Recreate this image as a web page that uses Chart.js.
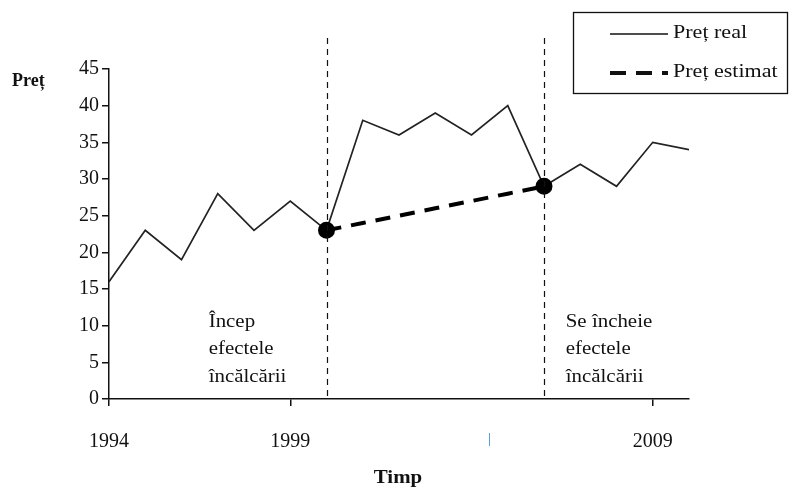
<!DOCTYPE html>
<html>
<head>
<meta charset="utf-8">
<script src="https://cdn.jsdelivr.net/npm/chart.js@4"></script>
<style>
  html, body { margin: 0; padding: 0; background: #fff; }
  #wrap { width: 793px; height: 495px; }
</style>
</head>
<body>
<div id="wrap"><canvas id="myChart" width="793" height="495"></canvas></div>
<script>
// data
const years = [1994, 1995, 1996, 1997, 1998, 1999, 2000, 2001, 2002, 2003, 2004, 2005, 2006, 2007, 2008, 2009, 2010];
const realPrice = [16, 23, 19, 28, 23, 27, 23, 38, 36, 39, 36, 40, 29, 32, 29, 35, 34];
const estYears = [2000, 2001, 2002, 2003, 2004, 2005, 2006];
const estPrice = [23, 24, 25, 26, 27, 28, 29];
const yearTicks = [1994, 1999, 2009];
const strayTick = 2004.5;   // the lone blue mark under the axis
const phaseYears = [2000, 2006];
const phaseNotes = [
    ['Încep', 'efectele', 'încălcării'],
    ['Se încheie', 'efectele', 'încălcării']
];
const seriesNames = ['Preț real', 'Preț estimat'];

const serif = '"Liberation Serif", "Times New Roman", serif';

// the source text looks a bit stretched sideways
function wideText(ctx, txt, x, y, sx) {
    ctx.save();
    ctx.translate(x, y);
    ctx.scale(sx, 1);
    ctx.fillText(txt, 0, 0);
    ctx.restore();
}

// vertical phase lines, notes, titles and the boxed legend
const decorPlugin = {
    id: 'decor',
    afterDatasetsDraw(chart) {
        const { ctx, chartArea: { top, bottom }, scales: { x } } = chart;
        ctx.save();

        // dashed verticals
        ctx.strokeStyle = '#111';
        ctx.lineWidth = 1.2;
        ctx.setLineDash([6, 5]);
        phaseYears.forEach(yr => {
            const px = Math.round(x.getPixelForValue(yr)) + 0.5;
            ctx.beginPath();
            ctx.moveTo(px, top - 31);
            ctx.lineTo(px, bottom - 3);
            ctx.stroke();
        });
        ctx.setLineDash([]);

        // notes
        ctx.fillStyle = '#111';
        ctx.font = '19px ' + serif;
        ctx.textAlign = 'left';
        ctx.textBaseline = 'middle';
        const noteX = [x.getPixelForValue(1996.75), x.getPixelForValue(2006.6)];
        phaseNotes.forEach((lines, i) => {
            lines.forEach((t, j) => wideText(ctx, t, noteX[i], 322 + j * 27.5, 1.1));
        });

        // axis titles
        ctx.font = 'bold 18px ' + serif;
        ctx.fillText('Preț', 12, 81);
        ctx.font = 'bold 19px ' + serif;
        ctx.textAlign = 'center';
        wideText(ctx, 'Timp', 398, 478, 1.1);

        // legend box
        ctx.lineWidth = 1.3;
        ctx.strokeStyle = '#111';
        ctx.strokeRect(573.5, 12.5, 214, 81);
        ctx.beginPath();
        ctx.moveTo(610, 34);
        ctx.lineTo(668, 34);
        ctx.stroke();
        ctx.lineWidth = 4;
        ctx.setLineDash([16, 10]);
        ctx.beginPath();
        ctx.moveTo(610, 73);
        ctx.lineTo(668, 73);
        ctx.stroke();
        ctx.setLineDash([]);
        ctx.textAlign = 'left';
        ctx.font = '19px ' + serif;
        wideText(ctx, seriesNames[0], 673, 33, 1.16);
        wideText(ctx, seriesNames[1], 673, 72, 1.16);

        ctx.restore();
    }
};

const config = {
    type: 'line',
    data: {
        datasets: [
            {
                label: seriesNames[0],
                data: years.map((yr, i) => ({ x: yr, y: realPrice[i] })),
                borderColor: '#222',
                borderWidth: 1.7,
                pointRadius: 0,
                tension: 0,
                order: 2
            },
            {
                label: seriesNames[1],
                data: estYears.map((yr, i) => ({ x: yr, y: estPrice[i] })),
                borderColor: '#000',
                borderWidth: 4,
                borderDash: [15, 10],
                pointRadius: estYears.map((yr, i) => (i === 0 || i === estYears.length - 1) ? 6.5 : 0),
                pointBackgroundColor: '#000',
                pointBorderColor: '#000',
                tension: 0,
                order: 1
            }
        ]
    },
    options: {
        responsive: false,
        animation: false,
        layout: { padding: { top: 69, right: 104, left: 0, bottom: 0 } },
        plugins: {
            legend: { display: false },
            tooltip: { enabled: false }
        },
        scales: {
            x: {
                type: 'linear',
                min: 1994,
                max: 2010,
                afterBuildTicks: (scale) => {
                    scale.ticks = yearTicks.concat([strayTick]).map(v => ({ value: v }));
                },
                afterFit: (scale) => { scale.height = 96; },
                ticks: {
                    autoSkip: false,
                    maxRotation: 0,
                    padding: 24,
                    font: (c) => ({ family: serif, size: c.tick && c.tick.value === strayTick ? 15 : 20 }),
                    color: (c) => c.tick && c.tick.value === strayTick ? '#2f7fd4' : '#111',
                    callback: (v) => v === strayTick ? '|' : String(v)
                },
                grid: {
                    drawOnChartArea: false,
                    drawTicks: true,
                    tickLength: 7,
                    lineWidth: 1.5,
                    color: (c) => c.tick && c.tick.value === strayTick ? 'rgba(0,0,0,0)' : '#111'
                },
                border: { display: true, color: '#111', width: 1.5 }
            },
            y: {
                min: 0,
                max: 45,
                afterFit: (scale) => { scale.width = 109; },
                ticks: {
                    stepSize: 5,
                    padding: 3,
                    font: { family: serif, size: 20 },
                    color: '#111'
                },
                grid: {
                    drawOnChartArea: false,
                    drawTicks: true,
                    tickLength: 7,
                    lineWidth: 1.5,
                    color: '#111'
                },
                border: { display: true, color: '#111', width: 1.5 }
            }
        }
    },
    plugins: [decorPlugin]
};

new Chart(document.getElementById('myChart'), config);
</script>
</body>
</html>
